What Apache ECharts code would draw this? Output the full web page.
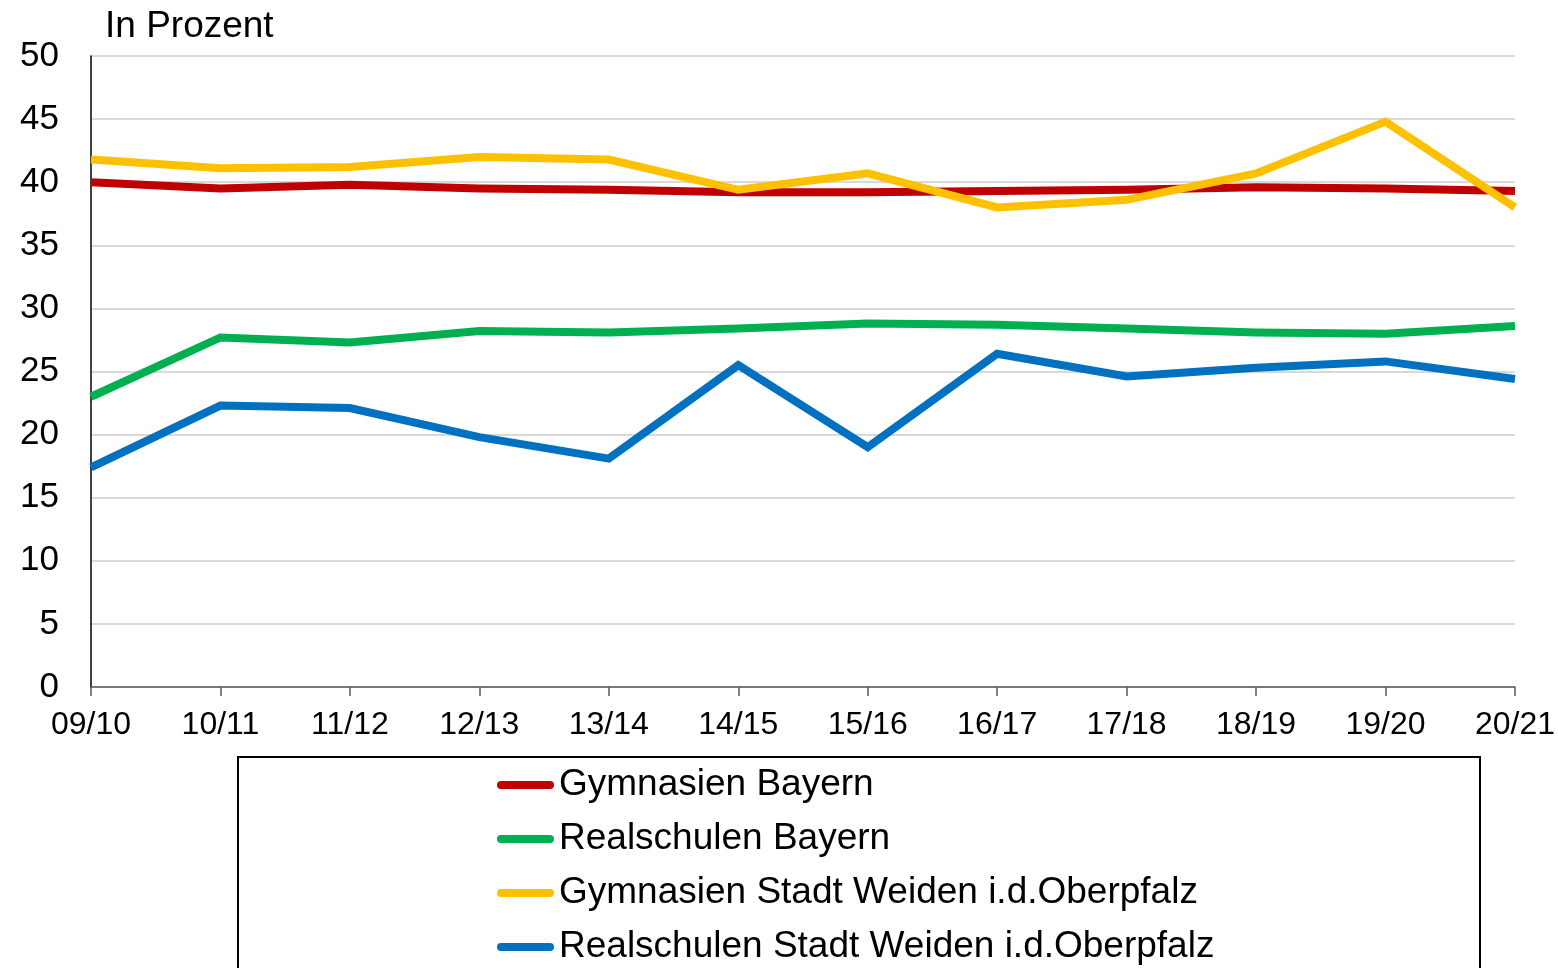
<!DOCTYPE html>
<html>
<head>
<meta charset="utf-8">
<script src="https://cdn.jsdelivr.net/npm/echarts@6/dist/echarts.min.js"></script>
<style>
  html, body { margin: 0; padding: 0; background: #ffffff; }
  #chart { width: 1558px; height: 968px; }
</style>
</head>
<body>
<div id="chart"></div>
<script>
// School years (Schuljahre)
const years = ['09/10', '10/11', '11/12', '12/13', '13/14', '14/15', '15/16', '16/17', '17/18', '18/19', '19/20', '20/21'];

// Übertrittsquoten in Prozent
const gymnasienBayern = [40.0, 39.5, 39.8, 39.5, 39.4, 39.2, 39.2, 39.3, 39.4, 39.6, 39.5, 39.3];
const realschulenBayern = [23.0, 27.7, 27.3, 28.2, 28.1, 28.4, 28.8, 28.7, 28.4, 28.1, 28.0, 28.6];
const gymnasienWeiden = [41.8, 41.1, 41.2, 42.0, 41.8, 39.4, 40.7, 38.0, 38.6, 40.7, 44.8, 38.0];
const realschulenWeiden = [17.4, 22.3, 22.1, 19.8, 18.1, 25.5, 19.0, 26.4, 24.6, 25.3, 25.8, 24.4];

const seriesNames = [
  'Gymnasien Bayern',
  'Realschulen Bayern',
  'Gymnasien Stadt Weiden i.d.Oberpfalz',
  'Realschulen Stadt Weiden i.d.Oberpfalz'
];
const seriesColors = ['#C00000', '#00B050', '#FFC000', '#0070C0'];
const seriesData = [gymnasienBayern, realschulenBayern, gymnasienWeiden, realschulenWeiden];

const FONT = '"Liberation Sans", Arial, sans-serif';

const chart = echarts.init(document.getElementById('chart'), null, { renderer: 'canvas' });

chart.setOption({
  animation: false,
  backgroundColor: '#ffffff',
  title: {
    text: 'In Prozent',
    left: 100,
    top: 8,
    padding: [0, 0, 0, 5],
    textStyle: { fontFamily: FONT, fontSize: 37, fontWeight: 'normal', color: '#000000' }
  },
  grid: { left: 91, right: 40, top: 56, bottom: 281, containLabel: false },
  xAxis: {
    type: 'category',
    data: years,
    boundaryGap: false,
    axisLine: { show: true, lineStyle: { color: '#595959', width: 1.5 } },
    axisTick: { show: true, length: 9, lineStyle: { color: '#595959', width: 1.5 } },
    axisLabel: { fontFamily: FONT, fontSize: 32, color: '#000000', margin: 22, interval: 0 },
    splitLine: { show: false }
  },
  yAxis: {
    type: 'value',
    min: 0,
    max: 50,
    interval: 5,
    axisLine: { show: true, lineStyle: { color: '#000000', width: 1.5 } },
    axisTick: { show: false },
    axisLabel: { fontFamily: FONT, fontSize: 35, color: '#000000', margin: 32 },
    splitLine: { show: true, lineStyle: { color: '#D9D9D9', width: 2 } }
  },
  legend: {
    orient: 'vertical',
    left: 497,
    top: 765,
    height: 400,
    padding: 0,
    itemWidth: 57,
    itemHeight: 8,
    itemGap: 14,
    icon: 'path://M4,0 H53 A4,4 0 0 1 53,8 H4 A4,4 0 0 1 4,0 Z',
    textStyle: { fontFamily: FONT, fontSize: 37, color: '#000000', lineHeight: 40 },
    data: seriesNames
  },
  graphic: [{
    type: 'rect',
    z: -1,
    shape: { x: 238, y: 757, width: 1242, height: 300 },
    style: { fill: 'none', stroke: '#000000', lineWidth: 2 }
  }],
  series: seriesNames.map((name, i) => ({
    name: name,
    type: 'line',
    data: seriesData[i],
    symbol: 'none',
    clip: true,
    color: seriesColors[i],
    lineStyle: { color: seriesColors[i], width: 8, join: 'miter' },
    z: 2
  }))
});
</script>
</body>
</html>
